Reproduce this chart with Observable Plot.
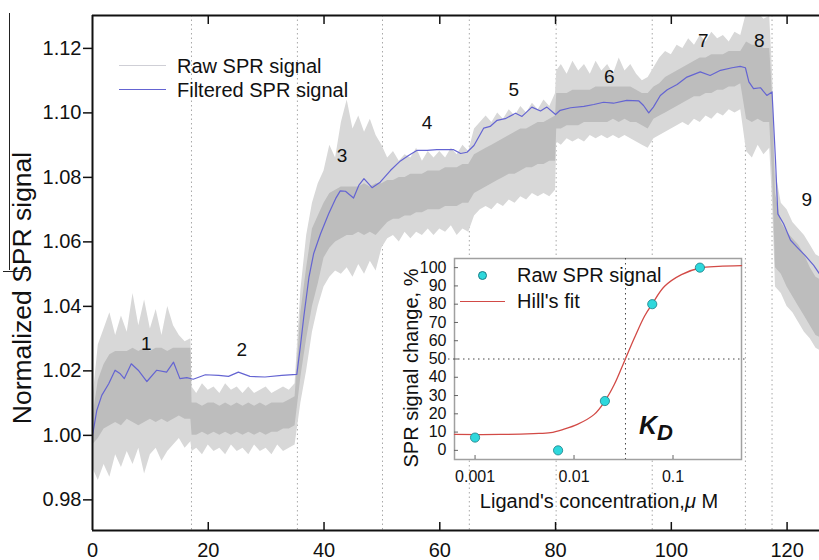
<!DOCTYPE html>
<html>
<head>
<meta charset="utf-8">
<script src="https://cdn.jsdelivr.net/npm/d3@7"></script>
<script src="https://cdn.jsdelivr.net/npm/@observablehq/plot@0.6"></script>
<style>
  html, body { margin: 0; padding: 0; background: #fff; }
  #wrap { position: relative; width: 819px; height: 560px; overflow: hidden; font-family: "Liberation Sans", Arial, sans-serif; color: #111; }
  #wrap svg { position: absolute; }
  .abs { position: absolute; white-space: nowrap; line-height: 20px; font-size: 20px; }
  .ln { position: absolute; height: 0; }
</style>
</head>
<body>
<div id="wrap"></div>
<script>
// ---------------- main chart data ----------------
const xTicks = [0, 20, 40, 60, 80, 100, 120];
const yTicks = [0.98, 1.00, 1.02, 1.04, 1.06, 1.08, 1.10, 1.12];
const boundaries = [17.1, 35.4, 50.1, 65.1, 80.1, 96.7, 112.8, 117.4];

// raw SPR signal: sampled envelope (time, dense core low/high, spike low/high)
const rawT = [0,1,2,3,4,5,6,7,8,9,10,11,12,13,14,15,16,17,17.2,18,19,20,21,22,23,24,25,26,27,28,29,30,31,32,33,34,35,
  36,37,38,39,40,41,42,43,44,45,46,47,48,49,50,51,52,53,54,55,56,57,58,59,60,61,62,63,64,65,
  66,67,68,69,70,71,72,73,74,75,76,77,78,79,80,80.2,81,82,83,84,85,86,87,88,89,90,91,92,93,94,95,96,
  97,98,99,100,101,102,103,104,105,106,107,108,109,110,111,112,113,114,115,116,117,117.5,118,119,120,121,122,123,124,125,126];
const rawCoreLo = [0.997,0.999,1.002,1.003,1.004,1.003,1.005,1.004,1.003,1.004,1.005,1.004,1.005,1.004,1.005,1.006,1.005,1.005,
  1.000,1.000,1.001,1.000,1.001,1.000,1.001,1.000,1.001,1.000,1.001,1.000,1.001,1.000,1.001,1.001,1.002,1.002,1.003,
  1.018,1.030,1.040,1.047,1.055,1.058,1.060,1.061,1.062,1.062,1.063,1.062,1.063,1.062,
  1.064,1.066,1.067,1.067,1.068,1.068,1.069,1.069,1.070,1.070,1.070,1.071,1.071,1.071,1.072,1.072,
  1.075,1.076,1.077,1.078,1.079,1.080,1.081,1.081,1.082,1.083,1.083,1.084,1.084,1.085,1.085,
  1.095,1.095,1.096,1.096,1.096,1.097,1.097,1.097,1.097,1.097,1.098,1.097,1.098,1.097,1.097,1.096,1.095,
  1.098,1.099,1.100,1.101,1.102,1.103,1.104,1.105,1.105,1.106,1.106,1.107,1.107,1.108,1.108,1.109,
  1.098,1.097,1.098,1.097,1.097,1.080,1.052,1.050,1.046,1.043,1.040,1.037,1.034,1.031,1.030];
const rawCoreHi = [1.005,1.017,1.022,1.025,1.026,1.026,1.026,1.027,1.026,1.027,1.026,1.027,1.027,1.026,1.027,1.027,1.027,1.027,
  1.010,1.010,1.009,1.010,1.010,1.009,1.010,1.009,1.010,1.009,1.010,1.009,1.010,1.009,1.010,1.010,1.010,1.011,1.012,
  1.038,1.052,1.064,1.068,1.072,1.075,1.076,1.077,1.077,1.077,1.077,1.078,1.077,1.078,
  1.078,1.079,1.079,1.080,1.080,1.081,1.081,1.081,1.082,1.082,1.082,1.083,1.083,1.083,1.084,1.084,
  1.087,1.088,1.089,1.090,1.091,1.092,1.093,1.094,1.095,1.095,1.096,1.097,1.097,1.098,1.099,
  1.106,1.106,1.106,1.107,1.107,1.107,1.107,1.108,1.108,1.108,1.108,1.108,1.108,1.108,1.107,1.106,1.106,
  1.108,1.109,1.111,1.112,1.113,1.114,1.115,1.116,1.117,1.117,1.118,1.118,1.118,1.119,1.119,1.119,
  1.122,1.121,1.121,1.120,1.120,1.105,1.075,1.066,1.063,1.061,1.059,1.056,1.052,1.049,1.048];
const rawLo = [0.990,0.986,0.991,0.987,0.994,0.990,0.995,0.991,0.996,0.988,0.994,0.996,0.992,0.995,0.997,0.999,0.996,0.998,
  0.995,0.996,0.994,0.997,0.995,0.996,0.994,0.997,0.995,0.996,0.994,0.997,0.995,0.996,0.994,0.997,0.995,0.996,0.997,
  1.010,1.020,1.032,1.040,1.046,1.049,1.051,1.050,1.052,1.049,1.053,1.050,1.054,1.051,
  1.058,1.061,1.062,1.060,1.063,1.061,1.063,1.062,1.064,1.062,1.064,1.063,1.065,1.062,1.064,1.063,
  1.068,1.070,1.071,1.070,1.072,1.071,1.073,1.072,1.074,1.073,1.075,1.074,1.075,1.074,1.076,
  1.091,1.090,1.092,1.091,1.092,1.091,1.093,1.092,1.093,1.092,1.093,1.092,1.093,1.092,1.091,1.090,1.089,
  1.092,1.093,1.094,1.095,1.096,1.097,1.096,1.098,1.097,1.099,1.098,1.100,1.099,1.101,1.100,1.101,
  1.088,1.086,1.090,1.087,1.089,1.072,1.046,1.044,1.040,1.038,1.035,1.032,1.030,1.027,1.026];
const rawHi = [1.010,1.028,1.033,1.038,1.031,1.037,1.032,1.044,1.034,1.042,1.033,1.039,1.031,1.040,1.034,1.031,1.029,1.030,
  1.015,1.013,1.016,1.014,1.015,1.013,1.016,1.014,1.015,1.013,1.015,1.013,1.014,1.015,1.013,1.014,1.015,1.014,1.016,
  1.045,1.062,1.072,1.078,1.082,1.090,1.086,1.097,1.104,1.095,1.099,1.094,1.098,1.093,
  1.090,1.086,1.088,1.085,1.087,1.086,1.089,1.085,1.088,1.086,1.088,1.086,1.089,1.087,1.090,1.088,
  1.095,1.097,1.099,1.097,1.100,1.098,1.101,1.099,1.102,1.100,1.103,1.101,1.104,1.102,1.106,
  1.113,1.115,1.112,1.116,1.113,1.115,1.112,1.116,1.113,1.115,1.112,1.117,1.113,1.115,1.112,1.110,1.111,
  1.114,1.117,1.119,1.118,1.121,1.120,1.123,1.121,1.124,1.122,1.125,1.123,1.124,1.122,1.125,1.124,
  1.131,1.130,1.131,1.129,1.130,1.112,1.082,1.072,1.070,1.066,1.064,1.062,1.059,1.056,1.055];

// filtered SPR signal
const filtT = [0,0.75,1.6,2.8,3.9,4.8,5.5,6.7,7.9,9.4,11.1,12.8,14.0,15.1,16.3,17.4,19.5,21.8,23.5,25.2,27.2,29.8,32.7,35.3,
  35.9,36.5,37.4,38.2,39.4,40.8,42.0,42.8,43.7,45.1,46.0,46.9,48.3,49.7,51.5,53.2,54.6,56.1,57.8,59.5,62.4,63.6,64.7,
  65.9,67.6,68.7,69.9,71.3,73.1,74.2,75.9,77.4,78.5,80.0,80.8,82.6,84.9,86.6,88.3,90.0,92.3,94.4,95.2,96.1,96.9,
  98.1,99.3,101.0,102.7,105.0,106.7,108.5,110.5,111.9,112.8,113.4,114.2,115.4,116.5,117.4,118.0,118.4,119.4,120.6,121.7,123.1,124.6,125.6];
const filtY = [1.000,1.0078,1.0124,1.016,1.0202,1.0191,1.0176,1.0222,1.0202,1.0167,1.0202,1.0196,1.0227,1.0176,1.0179,1.0174,1.0188,1.0186,1.0183,1.0196,1.0183,1.0181,1.0186,1.0189,
  1.0274,1.0367,1.0491,1.0563,1.0625,1.0687,1.0734,1.0758,1.0757,1.0736,1.0775,1.0796,1.0768,1.0785,1.0822,1.0851,1.0868,1.0884,1.0884,1.0886,1.0886,1.0874,1.0878,
  1.0899,1.0953,1.0958,1.0977,1.0982,1.0999,1.0989,1.1018,1.1006,1.1018,1.0995,1.1008,1.1016,1.1020,1.1026,1.1033,1.1030,1.1039,1.1037,1.1023,1.1000,1.1018,
  1.1054,1.1072,1.1088,1.1111,1.1127,1.1116,1.1132,1.1140,1.1144,1.1140,1.1096,1.1075,1.1078,1.1054,1.1065,1.0853,1.0687,1.0656,1.0605,1.0584,1.0558,1.0527,1.0501];

// segment labels
const segText = ["1","2","3","4","5","6","7","8","9"];
const segX = [9.3, 25.8, 43.1, 57.8, 72.8, 89.3, 105.5, 115.2, 123.4];
const segY = [1.0285, 1.0264, 1.0868, 1.0970, 1.1070, 1.1113, 1.1222, 1.1222, 1.0731];

// ---------------- inset data ----------------
const concX = [0.001, 0.0069, 0.0205, 0.0617, 0.187];
const concY = [7, 0, 27, 80, 100];
const hillX = [0.00062, 0.0018, 0.0039, 0.0058, 0.0078, 0.0108, 0.016, 0.0205, 0.0255, 0.0323, 0.0408, 0.0515, 0.0617, 0.0822, 0.1216, 0.187, 0.288, 0.492];
const hillY = [8.7, 8.7, 9.2, 9.7, 11.5, 14.2, 19.7, 27, 36, 48.8, 61.6, 73.4, 80.2, 89.8, 96.2, 99.8, 100.7, 101.1];
const insetXTicks = [0.001, 0.01, 0.1];
const insetYTicks = [0, 10, 20, 30, 40, 50, 60, 70, 80, 90, 100];
const kdX = 0.0331;
const halfY = 50;

// ---------------- build ----------------
const raw = rawT.map((t, i) => ({t, clo: rawCoreLo[i], chi: rawCoreHi[i], lo: rawLo[i], hi: rawHi[i]}));
const filt = filtT.map((t, i) => ({t, v: filtY[i]}));
const segs = segText.map((s, i) => ({s, x: segX[i], y: segY[i]}));
const font = "'Liberation Sans', Arial, sans-serif";
const xDom = [0, 125.6], yDom = [0.9705, 1.1302];

const main = Plot.plot({
  width: 819, height: 560,
  marginLeft: 92, marginRight: 0, marginTop: 15, marginBottom: 30,
  style: {fontFamily: font, fontSize: "20px", color: "#111", background: "transparent", overflow: "visible"},
  x: {domain: xDom},
  y: {domain: yDom},
  marks: [
    Plot.ruleX(boundaries, {stroke: "#a8a8a8", strokeWidth: 1, strokeDasharray: "1.5,3"}),
    Plot.areaY(raw, {x: "t", y1: "lo", y2: "hi", fill: "#d8d8d8", clip: true}),
    Plot.areaY(raw, {x: "t", y1: "clo", y2: "chi", fill: "#bdbdbd", clip: true}),
    Plot.line(filt, {x: "t", y: "v", stroke: "#6464d2", strokeWidth: 1.2, clip: true}),
    Plot.text(segs, {x: "x", y: "y", text: "s", fontSize: 19, fill: "#111"}),
    Plot.axisY({ticks: yTicks, tickFormat: d3.format(".2f"), tickSize: 9, tickPadding: 2, fontSize: 20, label: null, strokeWidth: 1.5}),
    Plot.axisX({ticks: xTicks, tickSize: 0, tickPadding: 12, fontSize: 20, label: null}),
    Plot.tickX(xTicks.slice(1), {insetTop: 507, stroke: "#111", strokeWidth: 1.5}),
    Plot.tickX(xTicks.slice(1), {insetBottom: 506, stroke: "#111", strokeWidth: 1.5}),
    Plot.ruleX([xDom[0]], {stroke: "#111", strokeWidth: 2}),
    Plot.ruleY(yDom, {stroke: "#111", strokeWidth: 2}),
    Plot.text(["Normalized SPR signal"], {frameAnchor: "left", text: d => d, textAnchor: "middle", lineAnchor: "middle", rotate: -90, dx: -70, dy: 15, fontSize: 26.5, fill: "#111"})
  ]
});
main.style.left = "0px"; main.style.top = "0px";

const inset = Plot.plot({
  width: 370, height: 265,
  marginLeft: 79, marginRight: 4, marginTop: 8, marginBottom: 56,
  style: {fontFamily: font, fontSize: "16px", color: "#111", background: "transparent", overflow: "visible"},
  x: {type: "log", domain: [0.00062, 0.492]},
  y: {domain: [-5, 105]},
  marks: [
    Plot.frame({fill: "white", stroke: "#a0a0a0", strokeWidth: 1.5}),
    Plot.ruleY([halfY], {stroke: "#444", strokeDasharray: "1.5,3.5", insetLeft: -6, insetRight: -4}),
    Plot.ruleX([kdX], {stroke: "#444", strokeDasharray: "1.5,3.5"}),
    Plot.line(hillX.map((x, i) => ({x, y: hillY[i]})), {x: "x", y: "y", stroke: "#d24a46", strokeWidth: 1.3, curve: "catmull-rom"}),
    Plot.dot(concX.map((x, i) => ({x, y: concY[i]})), {x: "x", y: "y", r: 4.6, fill: "#2ed8dc", stroke: "#1b7d86", strokeWidth: 0.8}),
    Plot.tickY(insetYTicks, {insetRight: 283, stroke: "#666", strokeWidth: 1}),
    Plot.tickX(insetXTicks, {insetTop: 197, stroke: "#666", strokeWidth: 1}),
    Plot.axisY({ticks: insetYTicks, tickSize: 0, tickPadding: 8, fontSize: 16, label: null}),
    Plot.axisX({ticks: insetXTicks, tickFormat: d => String(d), tickSize: 0, tickPadding: 11, fontSize: 16, label: null}),
    Plot.text(["SPR signal change, %"], {frameAnchor: "left", text: d => d, textAnchor: "middle", lineAnchor: "middle", rotate: -90, dx: -43, dy: 9, fontSize: 20, fill: "#111"})
  ]
});
inset.style.left = "375px"; inset.style.top = "250px";

const wrap = document.getElementById("wrap");
wrap.appendChild(main);
wrap.appendChild(inset);

function addDiv(cls, css, html) {
  const d = document.createElement("div");
  d.className = cls; d.style.cssText = css; if (html) d.innerHTML = html;
  wrap.appendChild(d); return d;
}
// edge marks at the far left of the reference picture
addDiv("ln", "left:9px;top:13px;width:0;height:257px;border-left:1px solid #222;");
addDiv("ln", "left:3px;top:271px;width:25px;border-top:1px solid #222;");
// main legend
addDiv("ln", "left:119px;top:65px;width:47px;border-top:1.3px solid #cfcfd6;");
addDiv("abs", "left:177px;top:56px;", "Raw SPR signal");
addDiv("ln", "left:119px;top:89px;width:47px;border-top:1.3px solid #6464d2;");
addDiv("abs", "left:177px;top:80px;", "Filtered SPR signal");
// inset legend
addDiv("ln", "left:478px;top:271px;width:9px;height:9px;border-radius:50%;background:#2ed8dc;border:0.8px solid #1b7d86;box-sizing:border-box;");
addDiv("abs", "left:517px;top:265px;", "Raw SPR signal");
addDiv("ln", "left:460px;top:301px;width:45px;border-top:1.3px solid #d24a46;");
addDiv("abs", "left:517px;top:291px;", "Hill's fit");
// inset x label
addDiv("abs", "left:474px;top:491px;width:250px;text-align:center;", "Ligand's concentration,<i>&mu;</i> M");
// K_D
addDiv("abs", "left:639px;top:413px;font-size:25px;line-height:25px;font-weight:bold;font-style:italic;", "K<span style=\"position:relative;top:6px;font-size:22px;\">D</span>");
</script>
</body>
</html>
